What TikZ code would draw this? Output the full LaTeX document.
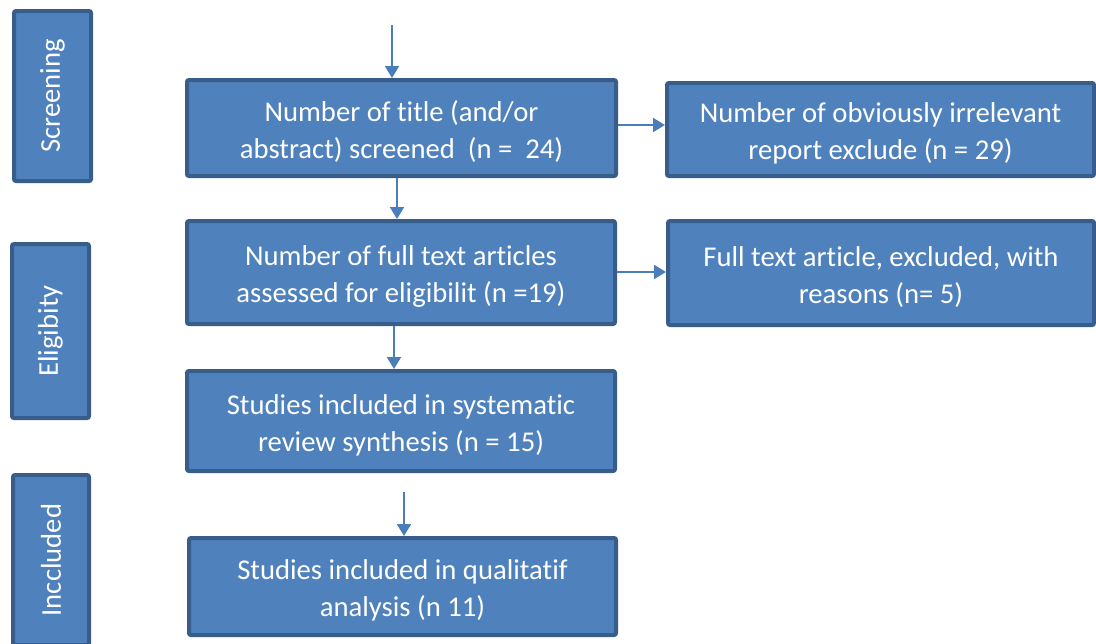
\documentclass[tikz,border=0pt]{standalone}
\usepackage{fontspec}
\setmainfont[Ligatures=NoCommon]{Carlito}
\usetikzlibrary{arrows.meta}
\definecolor{boxfill}{HTML}{4F81BD}
\definecolor{boxline}{HTML}{385D8A}
\definecolor{arrcol}{HTML}{4A7EBB}
\begin{document}
\begin{tikzpicture}[x=0.75pt,y=-0.75pt,
  base/.style={draw=boxline, fill=boxfill, line width=3pt, rounded corners=1.5pt,
    text=white, align=center, inner sep=0pt,
    font=\fontsize{21.5}{27.75}\selectfont},
  blk/.style={base, text height=48pt, text depth=3pt},
  side/.style={base, rotate=90},
  arr/.style={draw=arrcol, line width=1.5pt, -{Triangle[width=10.5pt,length=9pt]}}]
\useasboundingbox (0,0) rectangle (1096,643);
\begin{scope}
\clip (0,0) rectangle (1096,643);
% side labels
\node[side, minimum width=127.5pt, minimum height=57.75pt] (s1) at (52.5,96) {Screening};
\node[side, minimum width=130.5pt, minimum height=57.75pt] (s2) at (50.5,331) {Eligibity};
\node[side, minimum width=127.5pt, minimum height=57pt] (s3) at (51,560) {Inccluded};
% main boxes
\node[blk, minimum width=321.75pt, minimum height=72pt] (b1) at (401.5,128) {Number of title (and/or\\abstract) screened\ \ (n =\ \ 24)};
\node[blk, minimum width=321pt, minimum height=77.25pt] (b2) at (401,272.5) {Number of full text articles\\assessed for eligibilit (n =19)};
\node[blk, minimum width=321pt, minimum height=75pt] (b3) at (401,421) {Studies included in systematic\\review synthesis (n = 15)};
\node[blk, minimum width=320.25pt, minimum height=72.75pt] (b4) at (402.5,586.5) {Studies included in qualitatif\\analysis (n 11)};
\node[blk, minimum width=320.25pt, minimum height=69.75pt] (r1) at (880.5,129.5) {Number of obviously irrelevant\\report exclude (n = 29)};
\node[blk, minimum width=319.5pt, minimum height=78pt] (r2) at (881,273) {Full text article, excluded, with\\reasons (n= 5)};
\end{scope}
% connectors
\coordinate (top) at (392,25);
\coordinate (x12) at (397,0);
\coordinate (x23) at (394,0);
\coordinate (s34) at (404,492);
\coordinate (y1) at (0,125);
\coordinate (y2) at (0,272);
\draw[arr] (top) -- (top |- b1.north);
\draw[arr] (b1.south -| x12) -- (b2.north -| x12);
\draw[arr] (b2.south -| x23) -- (b3.north -| x23);
\draw[arr] (s34) -- (s34 |- b4.north);
\draw[arr] (b1.east |- y1) -- (r1.west |- y1);
\draw[arr] (b2.east |- y2) -- (r2.west |- y2);
\end{tikzpicture}
\end{document}
